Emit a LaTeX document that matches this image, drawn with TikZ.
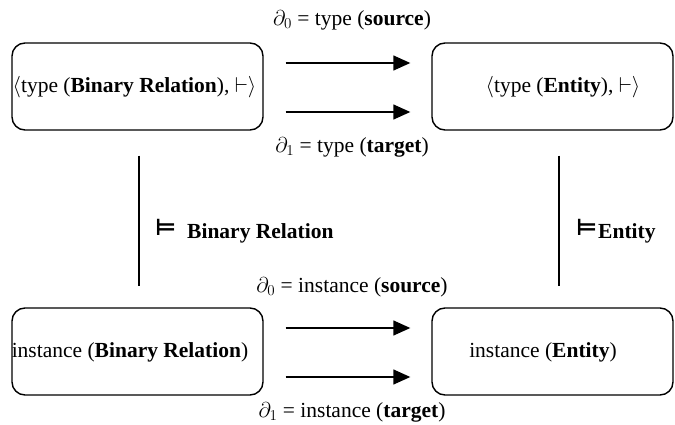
\RequirePackage{fix-cm}
\documentclass[tikz,border=0pt]{standalone}
\usepackage{fontspec}
\setmainfont{Liberation Serif}
\newfontfamily\dejavu{DejaVu Sans}
\usetikzlibrary{arrows.meta}
\newcommand{\satsym}{\raisebox{3pt}{\dejavu\bfseries\fontsize{23}{24}\selectfont ⊨}}
\begin{document}
\begin{tikzpicture}[x=1pt,y=-1pt,
  box/.style={draw, line width=1.4pt, rounded corners=13pt, minimum width=#1, minimum height=87pt, inner sep=0pt},
  lbl/.style={inner sep=0pt, font=\fontsize{21.5}{25}\selectfont},
  arr/.style={line width=1.4pt, -{Triangle[length=17pt,width=15pt]}},
  vline/.style={line width=1.4pt}]
\useasboundingbox (0,0) rectangle (675,425);
% boxes
\node[box=251pt] (TL) at (137.5,86.5) {};
\node[box=241pt] (TR) at (552.5,86.5) {};
\node[box=251pt] (BL) at (137.5,351.5) {};
\node[box=241pt] (BR) at (552.5,351.5) {};
% box texts
\node[lbl] (tTL) at (134.5,87) {$\langle$type (\textbf{Binary Relation}), $\vdash\rangle$};
\node[lbl] (tTR) at (563,87) {$\langle$type (\textbf{Entity}), $\vdash\rangle$};
\node[lbl] (tBL) at (130,352) {instance (\textbf{Binary Relation})};
\node[lbl] (tBR) at (543,352) {instance (\textbf{Entity})};
% arrow labels
\node[lbl] (s0) at (352,20) {$\partial_0$ = type (\textbf{source})};
\node[lbl] (t1) at (352,147) {$\partial_1$ = type (\textbf{target})};
\node[lbl] (s0i) at (352,287) {$\partial_0$ = instance (\textbf{source})};
\node[lbl] (t1i) at (352,412) {$\partial_1$ = instance (\textbf{target})};
% arrows
\draw[arr, shorten <=22pt, shorten >=21pt] ([yshift=23.5pt]TL.east) -- ([yshift=23.5pt]TL.east -| TR.west);
\draw[arr, shorten <=22pt, shorten >=21pt] ([yshift=-25.5pt]TL.east) -- ([yshift=-25.5pt]TL.east -| TR.west);
\draw[arr, shorten <=22pt, shorten >=21pt] ([yshift=23.5pt]BL.east) -- ([yshift=23.5pt]BL.east -| BR.west);
\draw[arr, shorten <=22pt, shorten >=21pt] ([yshift=-25.5pt]BL.east) -- ([yshift=-25.5pt]BL.east -| BR.west);
% vertical lines
\draw[vline] ([xshift=1.5pt,yshift=-25pt]TL.south) -- ([xshift=1.5pt,yshift=21pt]BL.north);
\draw[vline] ([xshift=6.5pt,yshift=-25pt]TR.south) -- ([xshift=6.5pt,yshift=21pt]BR.north);
% satisfaction labels
\node[lbl, anchor=base west] (mBR) at (155,238) {\satsym\hspace{11pt}\textbf{Binary Relation}};
\node[lbl, anchor=base west] (mE) at (576,238) {\satsym\hspace{1pt}\textbf{Entity}};
\end{tikzpicture}
\end{document}
